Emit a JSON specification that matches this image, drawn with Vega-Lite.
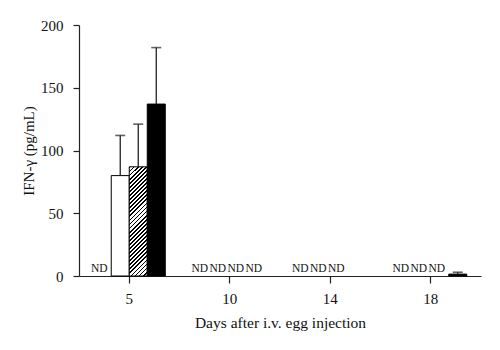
{
  "$schema": "https://vega.github.io/schema/vega-lite/v6.json",
  "width": 402,
  "height": 251,
  "autosize": {"type": "none"},
  "padding": {"left": 79, "top": 25, "right": 19, "bottom": 74},
  "background": "white",
  "config": {
    "view": {"stroke": null},
    "font": "Liberation Serif",
    "axis": {
      "labelFont": "Liberation Serif",
      "titleFont": "Liberation Serif",
      "labelColor": "#111",
      "titleColor": "#111",
      "domainColor": "#222",
      "tickColor": "#222",
      "domainWidth": 1.2,
      "tickWidth": 1.2,
      "grid": false,
      "titleFontWeight": "normal"
    }
  },
  "data": {
    "values": [
      {"day": "5", "grp": "A", "value": null, "upper": null, "note": "ND"},
      {"day": "5", "grp": "B", "value": 80, "upper": 112, "note": null},
      {"day": "5", "grp": "C", "value": 87, "upper": 121, "note": null},
      {"day": "5", "grp": "D", "value": 137, "upper": 182, "note": null},
      {"day": "10", "grp": "A", "value": null, "upper": null, "note": "ND"},
      {"day": "10", "grp": "B", "value": null, "upper": null, "note": "ND"},
      {"day": "10", "grp": "C", "value": null, "upper": null, "note": "ND"},
      {"day": "10", "grp": "D", "value": null, "upper": null, "note": "ND"},
      {"day": "14", "grp": "A", "value": null, "upper": null, "note": "ND"},
      {"day": "14", "grp": "B", "value": null, "upper": null, "note": "ND"},
      {"day": "14", "grp": "C", "value": null, "upper": null, "note": "ND"},
      {"day": "18", "grp": "A", "value": null, "upper": null, "note": "ND"},
      {"day": "18", "grp": "B", "value": null, "upper": null, "note": "ND"},
      {"day": "18", "grp": "C", "value": null, "upper": null, "note": "ND"},
      {"day": "18", "grp": "D", "value": 1.5, "upper": 3, "note": null}
    ]
  },
  "encoding": {
    "x": {
      "field": "day",
      "type": "nominal",
      "sort": ["5", "10", "14", "18"],
      "scale": {"paddingInner": 0, "paddingOuter": 0},
      "axis": {
        "labelAngle": 0,
        "labelFontSize": 15,
        "tickSize": 7,
        "labelPadding": 8,
        "title": "Days after i.v. egg injection",
        "titleFontSize": 15.5,
        "titlePadding": 9
      }
    },
    "xOffset": {
      "field": "grp",
      "type": "nominal",
      "scale": {"domain": ["A", "B", "C", "D"], "paddingInner": 0, "paddingOuter": 0.79}
    }
  },
  "layer": [
    {
      "transform": [{"filter": "datum.value != null"}],
      "mark": {"type": "bar", "stroke": "#000", "strokeWidth": 1},
      "encoding": {
        "y": {
          "field": "value",
          "type": "quantitative",
          "scale": {"domain": [0, 200], "nice": false},
          "axis": {
            "values": [0, 50, 100, 150, 200],
            "labelFontSize": 15,
            "tickSize": 6,
            "labelPadding": 10,
            "title": "IFN-γ (pg/mL)",
            "titleFontSize": 15,
            "titlePadding": 4
          }
        },
        "fill": {
          "condition": [
            {
              "test": "datum.grp === 'C'",
              "value": {
                "gradient": "linear",
                "x1": 0, "y1": 0, "x2": 0.187, "y2": 1.135,
                "stops": [
                  {"offset": 0, "color": "#000"}, {"offset": 0.014, "color": "#000"}, {"offset": 0.014, "color": "#fff"}, {"offset": 0.032, "color": "#fff"},
                  {"offset": 0.032, "color": "#000"}, {"offset": 0.046, "color": "#000"}, {"offset": 0.046, "color": "#fff"}, {"offset": 0.064, "color": "#fff"},
                  {"offset": 0.064, "color": "#000"}, {"offset": 0.078, "color": "#000"}, {"offset": 0.078, "color": "#fff"}, {"offset": 0.096, "color": "#fff"},
                  {"offset": 0.096, "color": "#000"}, {"offset": 0.11, "color": "#000"}, {"offset": 0.11, "color": "#fff"}, {"offset": 0.128, "color": "#fff"},
                  {"offset": 0.128, "color": "#000"}, {"offset": 0.142, "color": "#000"}, {"offset": 0.142, "color": "#fff"}, {"offset": 0.16, "color": "#fff"},
                  {"offset": 0.16, "color": "#000"}, {"offset": 0.174, "color": "#000"}, {"offset": 0.174, "color": "#fff"}, {"offset": 0.192, "color": "#fff"},
                  {"offset": 0.192, "color": "#000"}, {"offset": 0.206, "color": "#000"}, {"offset": 0.206, "color": "#fff"}, {"offset": 0.224, "color": "#fff"},
                  {"offset": 0.224, "color": "#000"}, {"offset": 0.238, "color": "#000"}, {"offset": 0.238, "color": "#fff"}, {"offset": 0.256, "color": "#fff"},
                  {"offset": 0.256, "color": "#000"}, {"offset": 0.27, "color": "#000"}, {"offset": 0.27, "color": "#fff"}, {"offset": 0.288, "color": "#fff"},
                  {"offset": 0.288, "color": "#000"}, {"offset": 0.302, "color": "#000"}, {"offset": 0.302, "color": "#fff"}, {"offset": 0.32, "color": "#fff"},
                  {"offset": 0.32, "color": "#000"}, {"offset": 0.334, "color": "#000"}, {"offset": 0.334, "color": "#fff"}, {"offset": 0.352, "color": "#fff"},
                  {"offset": 0.352, "color": "#000"}, {"offset": 0.366, "color": "#000"}, {"offset": 0.366, "color": "#fff"}, {"offset": 0.384, "color": "#fff"},
                  {"offset": 0.384, "color": "#000"}, {"offset": 0.398, "color": "#000"}, {"offset": 0.398, "color": "#fff"}, {"offset": 0.416, "color": "#fff"},
                  {"offset": 0.416, "color": "#000"}, {"offset": 0.43, "color": "#000"}, {"offset": 0.43, "color": "#fff"}, {"offset": 0.448, "color": "#fff"},
                  {"offset": 0.448, "color": "#000"}, {"offset": 0.462, "color": "#000"}, {"offset": 0.462, "color": "#fff"}, {"offset": 0.48, "color": "#fff"},
                  {"offset": 0.48, "color": "#000"}, {"offset": 0.494, "color": "#000"}, {"offset": 0.494, "color": "#fff"}, {"offset": 0.512, "color": "#fff"},
                  {"offset": 0.512, "color": "#000"}, {"offset": 0.526, "color": "#000"}, {"offset": 0.526, "color": "#fff"}, {"offset": 0.544, "color": "#fff"},
                  {"offset": 0.544, "color": "#000"}, {"offset": 0.558, "color": "#000"}, {"offset": 0.558, "color": "#fff"}, {"offset": 0.576, "color": "#fff"},
                  {"offset": 0.576, "color": "#000"}, {"offset": 0.59, "color": "#000"}, {"offset": 0.59, "color": "#fff"}, {"offset": 0.608, "color": "#fff"},
                  {"offset": 0.608, "color": "#000"}, {"offset": 0.622, "color": "#000"}, {"offset": 0.622, "color": "#fff"}, {"offset": 0.64, "color": "#fff"},
                  {"offset": 0.64, "color": "#000"}, {"offset": 0.654, "color": "#000"}, {"offset": 0.654, "color": "#fff"}, {"offset": 0.672, "color": "#fff"},
                  {"offset": 0.672, "color": "#000"}, {"offset": 0.686, "color": "#000"}, {"offset": 0.686, "color": "#fff"}, {"offset": 0.704, "color": "#fff"},
                  {"offset": 0.704, "color": "#000"}, {"offset": 0.718, "color": "#000"}, {"offset": 0.718, "color": "#fff"}, {"offset": 0.736, "color": "#fff"},
                  {"offset": 0.736, "color": "#000"}, {"offset": 0.75, "color": "#000"}, {"offset": 0.75, "color": "#fff"}, {"offset": 0.768, "color": "#fff"},
                  {"offset": 0.768, "color": "#000"}, {"offset": 0.782, "color": "#000"}, {"offset": 0.782, "color": "#fff"}, {"offset": 0.8, "color": "#fff"},
                  {"offset": 0.8, "color": "#000"}, {"offset": 0.814, "color": "#000"}, {"offset": 0.814, "color": "#fff"}, {"offset": 0.832, "color": "#fff"},
                  {"offset": 0.832, "color": "#000"}, {"offset": 0.846, "color": "#000"}, {"offset": 0.846, "color": "#fff"}, {"offset": 0.864, "color": "#fff"},
                  {"offset": 0.864, "color": "#000"}, {"offset": 0.878, "color": "#000"}, {"offset": 0.878, "color": "#fff"}, {"offset": 0.896, "color": "#fff"},
                  {"offset": 0.896, "color": "#000"}, {"offset": 0.91, "color": "#000"}, {"offset": 0.91, "color": "#fff"}, {"offset": 0.928, "color": "#fff"},
                  {"offset": 0.928, "color": "#000"}, {"offset": 0.942, "color": "#000"}, {"offset": 0.942, "color": "#fff"}, {"offset": 0.96, "color": "#fff"},
                  {"offset": 0.96, "color": "#000"}, {"offset": 0.974, "color": "#000"}, {"offset": 0.974, "color": "#fff"}, {"offset": 0.992, "color": "#fff"},
                  {"offset": 0.992, "color": "#000"}, {"offset": 1, "color": "#000"}
                ]
              }
            },
            {"test": "datum.grp === 'D'", "value": "#000"}
          ],
          "value": "#fff"
        }
      }
    },
    {
      "transform": [{"filter": "datum.upper != null"}],
      "mark": {"type": "rule", "color": "#222", "strokeWidth": 1.3},
      "encoding": {
        "y": {"field": "value", "type": "quantitative", "title": "IFN-γ (pg/mL)"},
        "y2": {"field": "upper"}
      }
    },
    {
      "transform": [{"filter": "datum.upper != null"}],
      "mark": {"type": "tick", "orient": "horizontal", "color": "#222", "size": 10, "thickness": 1.6},
      "encoding": {
        "y": {"field": "upper", "type": "quantitative", "title": "IFN-γ (pg/mL)"}
      }
    },
    {
      "transform": [{"filter": "datum.note != null"}],
      "mark": {"type": "text", "baseline": "alphabetic", "dy": -4, "dx": -3, "fontSize": 11.5, "font": "Liberation Serif", "color": "#111"},
      "encoding": {
        "y": {"datum": 0, "type": "quantitative", "title": "IFN-γ (pg/mL)"},
        "text": {"field": "note"}
      }
    }
  ]
}
